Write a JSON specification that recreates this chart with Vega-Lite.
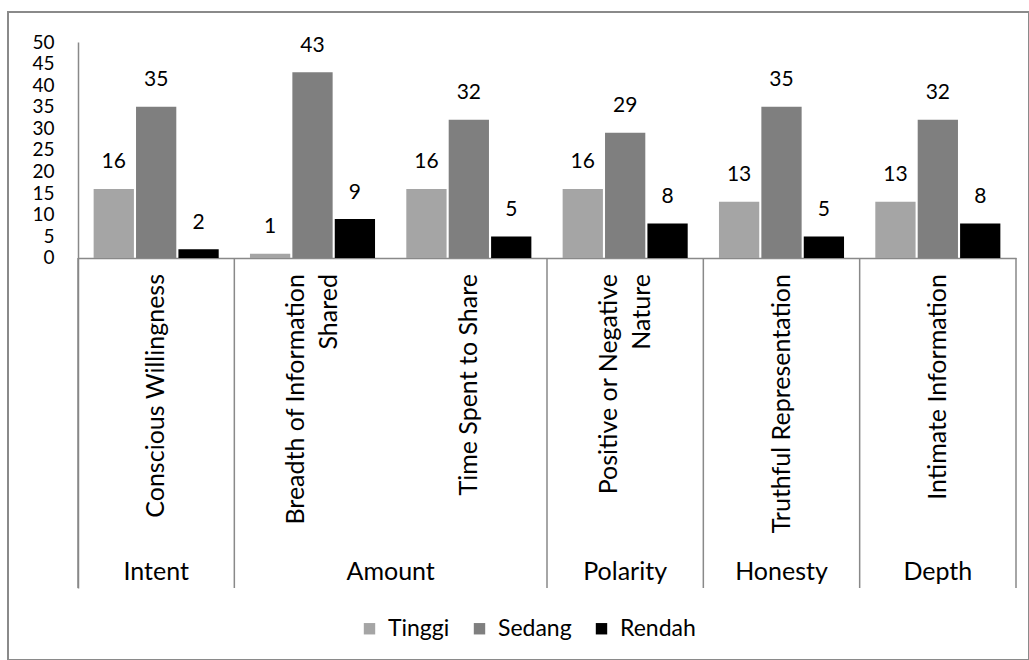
{
  "$schema": "https://vega.github.io/schema/vega-lite/v6.json",
  "width": 1021,
  "height": 648,
  "padding": {"left": 8, "top": 12, "right": 0, "bottom": 0},
  "autosize": {"type": "none"},
  "background": "white",
  "config": {
    "view": {"stroke": "#8a8a8a", "strokeWidth": 2},
    "font": "Lato",
    "text": {"font": "Lato", "color": "#000000"}
  },
  "datasets": {
    "values": [
      {"sub": "Conscious Willingness", "series": "Tinggi", "value": 16},
      {"sub": "Conscious Willingness", "series": "Sedang", "value": 35},
      {"sub": "Conscious Willingness", "series": "Rendah", "value": 2},
      {"sub": "Breadth of Information Shared", "series": "Tinggi", "value": 1},
      {"sub": "Breadth of Information Shared", "series": "Sedang", "value": 43},
      {"sub": "Breadth of Information Shared", "series": "Rendah", "value": 9},
      {"sub": "Time Spent to Share", "series": "Tinggi", "value": 16},
      {"sub": "Time Spent to Share", "series": "Sedang", "value": 32},
      {"sub": "Time Spent to Share", "series": "Rendah", "value": 5},
      {"sub": "Positive or Negative Nature", "series": "Tinggi", "value": 16},
      {"sub": "Positive or Negative Nature", "series": "Sedang", "value": 29},
      {"sub": "Positive or Negative Nature", "series": "Rendah", "value": 8},
      {"sub": "Truthful Representation", "series": "Tinggi", "value": 13},
      {"sub": "Truthful Representation", "series": "Sedang", "value": 35},
      {"sub": "Truthful Representation", "series": "Rendah", "value": 5},
      {"sub": "Intimate Information", "series": "Tinggi", "value": 13},
      {"sub": "Intimate Information", "series": "Sedang", "value": 32},
      {"sub": "Intimate Information", "series": "Rendah", "value": 8}
    ],
    "cats": [
      {"sub": "Conscious Willingness", "label": "Conscious Willingness", "group": "Intent"},
      {"sub": "Breadth of Information Shared", "label": "Breadth of Information|Shared", "group": "Amount"},
      {"sub": "Time Spent to Share", "label": "Time Spent to Share", "group": "Amount"},
      {"sub": "Positive or Negative Nature", "label": "Positive or Negative|Nature", "group": "Polarity"},
      {"sub": "Truthful Representation", "label": "Truthful Representation", "group": "Honesty"},
      {"sub": "Intimate Information", "label": "Intimate Information", "group": "Depth"}
    ]
  },
  "layer": [
    {
      "data": {"name": "values"},
      "mark": {"type": "bar"},
      "encoding": {
        "x": {
          "field": "sub", "type": "nominal",
          "scale": {
            "domain": ["Conscious Willingness", "Breadth of Information Shared", "Time Spent to Share", "Positive or Negative Nature", "Truthful Representation", "Intimate Information"],
            "range": [70, 1008], "paddingInner": 0.2, "paddingOuter": 0.1
          },
          "axis": {"orient": "bottom", "offset": -402, "labels": false, "ticks": false, "title": null, "domainColor": "#898989", "domainWidth": 1.5}
        },
        "xOffset": {
          "field": "series", "type": "nominal",
          "scale": {"domain": ["Tinggi", "Sedang", "Rendah"], "paddingInner": 0.05}
        },
        "y": {
          "field": "value", "type": "quantitative",
          "scale": {"domain": [-76.39, 50], "range": [576, 30], "nice": false, "zero": false},
          "axis": {"values": [0, 5, 10, 15, 20, 25, 30, 35, 40, 45, 50], "offset": -70, "ticks": false, "grid": false, "title": null, "labelFontSize": 19, "labelPadding": 24, "labelColor": "#000000", "labelFont": "Lato", "domainColor": "#898989", "domainWidth": 1.5}
        },
        "color": {
          "field": "series", "type": "nominal",
          "scale": {"domain": ["Tinggi", "Sedang", "Rendah"], "range": ["#a5a5a5", "#7f7f7f", "#000000"]},
          "legend": {"orient": "none", "legendX": 350, "legendY": 605, "direction": "horizontal", "title": null, "symbolType": "square", "symbolSize": 130, "labelFontSize": 23, "labelFont": "Lato", "labelColor": "#000000", "columnPadding": 18, "labelOffset": 7, "symbolStrokeWidth": 0}
        }
      }
    },
    {
      "data": {"name": "values"},
      "mark": {"type": "text", "dy": -26.5, "fontSize": 21, "baseline": "middle"},
      "encoding": {
        "x": {"field": "sub", "type": "nominal"},
        "xOffset": {"field": "series", "type": "nominal"},
        "y": {"field": "value", "type": "quantitative"},
        "text": {"field": "value", "type": "quantitative"}
      }
    },
    {
      "data": {"name": "cats"},
      "transform": [{"filter": "indexof(datum.label, '|') < 0"}],
      "mark": {"type": "text", "angle": 270, "align": "right", "baseline": "middle", "dx": -16, "fontSize": 25, "lineBreak": "|", "lineHeight": 33},
      "encoding": {
        "x": {"field": "sub", "type": "nominal"},
        "y": {"datum": 0},
        "text": {"field": "label", "type": "nominal"}
      }
    },
    {
      "data": {"name": "cats"},
      "transform": [{"filter": "indexof(datum.label, '|') >= 0"}],
      "mark": {"type": "text", "angle": 270, "align": "right", "baseline": "middle", "dx": -16, "dy": -16.5, "fontSize": 25, "lineBreak": "|", "lineHeight": 33},
      "encoding": {
        "x": {"field": "sub", "type": "nominal"},
        "y": {"datum": 0},
        "text": {"field": "label", "type": "nominal"}
      }
    },
    {
      "data": {"name": "cats"},
      "transform": [{"filter": "datum.sub != 'Time Spent to Share'"}],
      "mark": {"type": "rule", "color": "#898989", "strokeWidth": 1.5},
      "encoding": {
        "x": {"field": "sub", "type": "nominal", "bandPosition": -0.125},
        "y": {"datum": 0},
        "y2": {"datum": -76.39}
      }
    },
    {
      "data": {"name": "cats"},
      "transform": [{"filter": "datum.sub == 'Intimate Information'"}],
      "mark": {"type": "rule", "color": "#898989", "strokeWidth": 1.5},
      "encoding": {
        "x": {"field": "sub", "type": "nominal", "bandPosition": 1.125},
        "y": {"datum": 0},
        "y2": {"datum": -76.39}
      }
    },
    {
      "data": {"name": "cats"},
      "transform": [{"filter": "datum.group != 'Amount'"}],
      "mark": {"type": "text", "baseline": "middle", "fontSize": 25},
      "encoding": {
        "x": {"field": "sub", "type": "nominal"},
        "y": {"datum": -72.69},
        "text": {"field": "group", "type": "nominal"}
      }
    },
    {
      "data": {"name": "cats"},
      "transform": [{"filter": "datum.sub == 'Breadth of Information Shared'"}],
      "mark": {"type": "text", "baseline": "middle", "fontSize": 25},
      "encoding": {
        "x": {"field": "sub", "type": "nominal", "bandPosition": 1.125},
        "y": {"datum": -72.69},
        "text": {"field": "group", "type": "nominal"}
      }
    }
  ]
}
